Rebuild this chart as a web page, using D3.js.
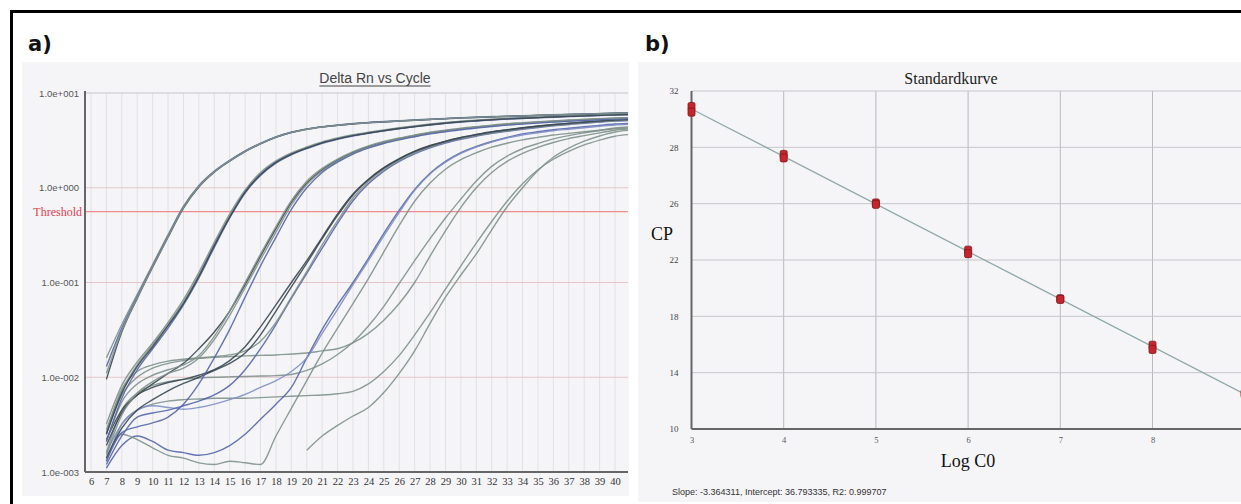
<!DOCTYPE html>
<html>
<head>
<meta charset="utf-8">
<script src="https://cdn.jsdelivr.net/npm/d3@7/dist/d3.min.js"></script>
<style>
  body { margin: 0; background: #fff; }
  svg { display: block; }
</style>
</head>
<body>
<svg id="chart" width="1241" height="504"></svg>
<script>
// ---------- panel a: Delta Rn vs Cycle ----------
var cycles = [7,8,9,10,11,12,13,14,15,16,17,18,19,20,21,22,23,24,25,26,27,28,29,30,31,32,33,34,35,36,37,38,39,40,41];
var cycleTicks = [6,7,8,9,10,11,12,13,14,15,16,17,18,19,20,21,22,23,24,25,26,27,28,29,30,31,32,33,34,35,36,37,38,39,40];
var yTicksA = [0.001, 0.01, 0.1, 1, 10];
var yTickLabelsA = ["1.0e-003", "1.0e-002", "1.0e-001", "1.0e+000", "1.0e+001"];
var threshold = 0.56;

// delta Rn per cycle, one array per well (null = not drawn on log axis)
var group1 = [
  [.016,.036,.075,.155,.32,.64,1.06,1.5,1.95,2.45,2.95,3.45,3.87,4.18,4.42,4.6,4.76,4.9,5.0,5.1,5.2,5.3,5.4,5.5,5.57,5.64,5.7,5.77,5.84,5.9,5.96,6.02,6.08,6.15,6.2],
  [.0095,.030,.068,.145,.30,.61,1.02,1.46,1.91,2.41,2.91,3.41,3.83,4.14,4.37,4.55,4.71,4.85,4.95,5.05,5.15,5.25,5.35,5.45,5.52,5.59,5.65,5.72,5.79,5.85,5.91,5.97,6.03,6.1,6.15],
  [.013,.033,.071,.150,.31,.63,1.04,1.48,1.93,2.43,2.93,3.43,3.85,4.16,4.39,4.57,4.73,4.87,4.97,5.07,5.17,5.27,5.37,5.47,5.54,5.61,5.67,5.74,5.81,5.87,5.93,5.99,6.05,6.12,6.17],
  [.011,.031,.069,.147,.305,.62,1.03,1.47,1.92,2.42,2.92,3.42,3.84,4.15,4.38,4.56,4.72,4.86,4.96,5.06,5.16,5.26,5.36,5.46,5.53,5.6,5.66,5.73,5.8,5.86,5.92,5.98,6.04,6.11,6.16]
];
var group2 = [
  [.0028,.0072,.0135,.022,.036,.062,.12,.25,.50,.92,1.4,1.87,2.28,2.64,3.0,3.3,3.57,3.8,4.03,4.25,4.45,4.65,4.83,5.0,5.12,5.24,5.35,5.44,5.52,5.6,5.68,5.76,5.83,5.9,5.95],
  [.0021,.006,.012,.020,.033,.058,.112,.235,.48,.88,1.35,1.82,2.23,2.59,2.95,3.25,3.52,3.75,3.98,4.2,4.4,4.6,4.78,4.95,5.07,5.19,5.3,5.39,5.47,5.55,5.63,5.71,5.78,5.85,5.9],
  [.0032,.0082,.0145,.023,.038,.066,.128,.265,.53,.95,1.45,1.92,2.33,2.69,3.05,3.35,3.62,3.85,4.08,4.3,4.5,4.7,4.88,5.05,5.17,5.29,5.4,5.49,5.57,5.65,5.73,5.81,5.88,5.95,6.0],
  [.0025,.0068,.013,.021,.035,.06,.116,.245,.49,.90,1.38,1.85,2.26,2.62,2.98,3.28,3.55,3.78,4.0,4.22,4.42,4.62,4.8,4.97,5.1,5.22,5.33,5.42,5.5,5.58,5.66,5.74,5.81,5.88,5.93]
];
var group3 = [
  [.0022,.0045,.0065,.0085,.011,.014,.020,.030,.050,.095,.19,.37,.70,1.12,1.55,1.96,2.36,2.72,3.03,3.3,3.55,3.8,4.0,4.2,4.37,4.53,4.68,4.8,4.92,5.03,5.13,5.23,5.32,5.4,5.45],
  [.0015,.004,.0068,.009,.011,.0125,.016,.025,.045,.088,.175,.34,.66,1.08,1.5,1.91,2.31,2.67,2.98,3.25,3.5,3.75,3.95,4.15,4.32,4.48,4.63,4.75,4.87,4.98,5.08,5.18,5.27,5.35,5.4],
  [.0013,.0026,.003,.0033,.0038,.0052,.0085,.016,.032,.070,.15,.30,.59,1.0,1.45,1.86,2.27,2.62,2.93,3.2,3.45,3.7,3.9,4.1,4.27,4.43,4.58,4.7,4.82,4.93,5.03,5.13,5.22,5.3,5.35],
  [.0021,.0055,.0085,.0105,.012,.0135,.017,.027,.050,.10,.20,.39,.73,1.17,1.6,2.01,2.41,2.77,3.08,3.35,3.6,3.85,4.05,4.25,4.42,4.58,4.73,4.85,4.97,5.08,5.18,5.28,5.37,5.45,5.5]
];
var group4 = [
  [.0019,.0042,.0065,.0078,.0088,.0095,.0105,.012,.015,.021,.034,.058,.10,.17,.30,.53,.86,1.23,1.63,2.03,2.43,2.79,3.1,3.4,3.65,3.9,4.1,4.3,4.48,4.65,4.8,4.95,5.08,5.2,5.28],
  [.0012,.0024,.0038,.0042,.0045,.005,.0056,.0065,.0082,.012,.020,.036,.068,.125,.23,.42,.73,1.1,1.5,1.9,2.28,2.64,2.97,3.25,3.5,3.75,3.95,4.15,4.33,4.5,4.65,4.8,4.93,5.05,5.12],
  [.0026,.0075,.0115,.0135,.0148,.0155,.016,.0165,.0172,.019,.024,.038,.07,.13,.25,.45,.78,1.16,1.56,1.96,2.34,2.69,3.02,3.3,3.55,3.8,4.0,4.2,4.38,4.55,4.7,4.85,4.98,5.1,5.18],
  [.0014,.0029,.0045,.0058,.0072,.0086,.010,.0118,.014,.018,.028,.05,.09,.16,.29,.51,.84,1.21,1.61,2.01,2.4,2.76,3.08,3.37,3.62,3.87,4.07,4.27,4.45,4.62,4.77,4.92,5.05,5.17,5.25]
];
var group5 = [
  [.0011,.0019,.0024,.0021,.0017,.0016,.0015,.0016,.0019,.0025,.0036,.0052,.0078,.016,.032,.058,.10,.18,.33,.58,.96,1.42,1.9,2.35,2.73,3.08,3.4,3.7,3.9,4.1,4.25,4.4,4.55,4.7,4.78],
  [.0016,.0032,.0045,.005,.0048,.0046,.0048,.0052,.0058,.0066,.0078,.0092,.0115,.016,.029,.052,.095,.17,.31,.55,.94,1.4,1.86,2.3,2.68,3.03,3.35,3.6,3.8,4.0,4.15,4.3,4.45,4.6,4.68],
  [.0014,.0025,.0022,.0018,.0015,.0014,.00125,.0012,.0013,.00125,.0012,.0024,.0047,.0092,.018,.033,.06,.11,.21,.40,.72,1.12,1.57,1.98,2.34,2.68,2.95,3.2,3.4,3.6,3.75,3.9,4.05,4.2,4.28]
];
var group6 = [
  [.0016,.0045,.0068,.0082,.009,.0095,.0098,.010,.0101,.0102,.0103,.0104,.0107,.0118,.0138,.0174,.0234,.0347,.056,.098,.17,.29,.48,.76,1.18,1.68,2.16,2.58,2.93,3.28,3.55,3.8,4.02,4.27,4.4],
  [.0025,.0065,.010,.0125,.014,.015,.0158,.0162,.0165,.0168,.017,.0172,.0176,.018,.019,.020,.023,.029,.040,.060,.10,.19,.35,.62,1.0,1.45,1.9,2.31,2.67,3.0,3.3,3.55,3.8,4.05,4.18]
];
var group7 = [
  [null,null,null,null,null,null,null,null,null,null,null,null,null,.0017,.0024,.0031,.0039,.0048,.0069,.011,.019,.037,.07,.12,.20,.36,.63,1.0,1.52,2.1,2.62,3.1,3.52,3.88,4.05],
  [.0013,.0032,.0045,.0052,.0056,.0058,.0059,.006,.006,.006,.0061,.0062,.0063,.0064,.0065,.0067,.0071,.0085,.0115,.017,.028,.048,.085,.15,.26,.44,.72,1.1,1.55,2.0,2.42,2.83,3.18,3.5,3.65]
];

// ---------- panel b: Standardkurve ----------
var logC0 = [3, 4, 5, 6, 7, 8, 9];
var cpRep1 = [32.9, 29.5, 26.05, 22.7, 19.25, 15.95, 12.55];
var cpRep2 = [32.5, 29.25, 25.95, 22.45, 19.2, 15.65, 12.45];
var xTicksB = [3, 4, 5, 6, 7, 8];
var yTicksB = [10, 14, 18, 22, 26, 30, 34];
var yTickLabelsB = ["10", "14", "18", "22", "26", "28", "32"];
var fitText = "Slope:  -3.364311, Intercept:  36.793335, R2:  0.999707";

var sans = "Liberation Sans, Arial, sans-serif";
var serif = "Liberation Serif, Times New Roman, serif";

var svg = d3.select("#chart");

// panel backgrounds
svg.append("rect").attr("x", 22).attr("y", 62).attr("width", 607).attr("height", 434).attr("fill", "#f5f5f8");
svg.append("rect").attr("x", 638).attr("y", 62).attr("width", 603).attr("height", 440).attr("fill", "#f5f5f8");

// outer frame (top and left)
svg.append("path").attr("d", "M11.5,504V11.5H1241")
    .attr("fill", "none").attr("stroke", "#000").attr("stroke-width", 3);

svg.append("text").attr("x", 28).attr("y", 51).text("a)")
    .attr("font-family", "DejaVu Sans, sans-serif").attr("font-weight", "bold").attr("font-size", 21).attr("fill", "#111");
svg.append("text").attr("x", 645).attr("y", 51).text("b)")
    .attr("font-family", "DejaVu Sans, sans-serif").attr("font-weight", "bold").attr("font-size", 21).attr("fill", "#111");

// ===== panel a =====
var A = {left: 85, right: 628, top: 93, bottom: 472};
var xA = d3.scaleLinear().domain([6, 40]).range([91, 615]);
var yA = d3.scaleLog().domain([0.001, 10]).range([A.bottom, A.top]);

var gA = svg.append("g");

// vertical grid
gA.selectAll("line.vgrid").data(cycleTicks).enter().append("line")
    .attr("x1", function(d) { return xA(d); }).attr("x2", function(d) { return xA(d); })
    .attr("y1", A.top).attr("y2", A.bottom)
    .attr("stroke", "#e0e0e7").attr("stroke-width", 1);

// horizontal grid
gA.selectAll("line.hgrid").data(yTicksA).enter().append("line")
    .attr("x1", A.left).attr("x2", A.right)
    .attr("y1", function(d) { return yA(d); }).attr("y2", function(d) { return yA(d); })
    .attr("stroke", function(d) { return d === 10 ? "#c8c8cc" : "#e5c6c8"; })
    .attr("stroke-width", 1.2);

// threshold
gA.append("line")
    .attr("x1", A.left).attr("x2", A.right)
    .attr("y1", yA(threshold)).attr("y2", yA(threshold))
    .attr("stroke", "#ef8a8e").attr("stroke-width", 1.2);
gA.append("text").attr("x", 82).attr("y", yA(threshold) + 4)
    .attr("text-anchor", "end").attr("font-family", serif).attr("font-size", 12)
    .attr("fill", "#e0404e").text("Threshold");

// amplification curves
svg.append("clipPath").attr("id", "clipA").append("rect")
    .attr("x", A.left).attr("y", A.top - 2).attr("width", A.right - A.left).attr("height", A.bottom - A.top + 2);

var lineA = d3.line()
    .defined(function(d) { return d != null; })
    .x(function(d, i) { return xA(cycles[i]); })
    .y(function(d) { return yA(d); })
    .curve(d3.curveMonotoneX);

var gray = "#7f918a", dark = "#3a4852", blue = "#5566aa", lblue = "#7f8ec6";
var groups = [
  {data: group1, colors: [gray, dark, blue, gray]},
  {data: group2, colors: [gray, blue, gray, dark]},
  {data: group3, colors: [dark, gray, blue, gray]},
  {data: group4, colors: [dark, blue, gray, dark]},
  {data: group5, colors: [blue, lblue, gray]},
  {data: group6, colors: [gray, gray]},
  {data: group7, colors: [gray, gray]}
];

var curvesG = gA.append("g").attr("clip-path", "url(#clipA)");
groups.slice().reverse().forEach(function(grp) {
  curvesG.selectAll(null).data(grp.data).enter().append("path")
      .attr("d", lineA)
      .attr("fill", "none")
      .attr("stroke", function(d, i) { return grp.colors[i]; })
      .attr("stroke-width", 1.4)
      .attr("stroke-opacity", 0.9);
});

// axes
gA.append("g").attr("transform", "translate(" + A.left + ",0)")
    .call(d3.axisLeft(yA).tickValues(yTicksA)
        .tickFormat(function(d, i) { return yTickLabelsA[i]; })
        .tickSize(0).tickPadding(6))
    .call(function(g) { g.select(".domain").remove(); })
    .selectAll("text")
    .attr("font-family", sans).attr("font-size", 9.5).attr("fill", "#555");

gA.append("g").attr("transform", "translate(0," + A.bottom + ")")
    .call(d3.axisBottom(xA).tickValues(cycleTicks).tickSize(0).tickPadding(6))
    .call(function(g) { g.select(".domain").remove(); })
    .selectAll("text")
    .attr("font-family", serif).attr("font-size", 10.5).attr("fill", "#333");

gA.append("line").attr("x1", A.left).attr("x2", A.left).attr("y1", A.top - 2).attr("y2", A.bottom)
    .attr("stroke", "#666").attr("stroke-width", 2);
gA.append("line").attr("x1", A.left).attr("x2", A.right).attr("y1", A.bottom).attr("y2", A.bottom)
    .attr("stroke", "#666").attr("stroke-width", 2);

// title with underline
var titleA = gA.append("text").attr("x", 375).attr("y", 83)
    .attr("text-anchor", "middle").attr("font-family", sans).attr("font-size", 14)
    .attr("fill", "#444").text("Delta Rn vs Cycle");
var tw = titleA.node().getComputedTextLength();
gA.append("line").attr("x1", 375 - tw / 2).attr("x2", 375 + tw / 2).attr("y1", 86).attr("y2", 86)
    .attr("stroke", "#444").attr("stroke-width", 1);

// ===== panel b =====
var B = {left: 691.5, right: 1241, top: 91, bottom: 429};
var xB = d3.scaleLinear().domain([3, 9]).range([B.left, B.left + 6 * 92.2]);
var yB = d3.scaleLinear().domain([10, 34]).range([B.bottom, B.top]);

var gB = svg.append("g");

gB.selectAll("line.vg").data(xTicksB.slice(1)).enter().append("line")
    .attr("x1", function(d) { return xB(d); }).attr("x2", function(d) { return xB(d); })
    .attr("y1", B.top).attr("y2", B.bottom)
    .attr("stroke", "#b9b9be").attr("stroke-width", 1);
gB.selectAll("line.hg").data(yTicksB.slice(1)).enter().append("line")
    .attr("x1", B.left).attr("x2", B.right)
    .attr("y1", function(d) { return yB(d); }).attr("y2", function(d) { return yB(d); })
    .attr("stroke", "#c6c6cb").attr("stroke-width", 1);

gB.append("g").attr("transform", "translate(" + (B.left - 6) + ",0)")
    .call(d3.axisLeft(yB).tickValues(yTicksB)
        .tickFormat(function(d, i) { return yTickLabelsB[i]; })
        .tickSize(0).tickPadding(7))
    .call(function(g) { g.select(".domain").remove(); })
    .selectAll("text")
    .attr("font-family", serif).attr("font-size", 9).attr("fill", "#444");

gB.append("g").attr("transform", "translate(0," + (B.bottom + 4) + ")")
    .call(d3.axisBottom(xB).tickValues(xTicksB).tickFormat(d3.format("d")).tickSize(0).tickPadding(4))
    .call(function(g) { g.select(".domain").remove(); })
    .selectAll("text")
    .attr("font-family", serif).attr("font-size", 8.5).attr("fill", "#555");

gB.append("line").attr("x1", B.left).attr("x2", B.left).attr("y1", B.top).attr("y2", B.bottom)
    .attr("stroke", "#666").attr("stroke-width", 2);
gB.append("line").attr("x1", B.left).attr("x2", B.right).attr("y1", B.bottom).attr("y2", B.bottom)
    .attr("stroke", "#666").attr("stroke-width", 2);

// least squares fit over all replicates
var pts = [];
logC0.forEach(function(x, i) { pts.push([x, cpRep1[i]]); pts.push([x, cpRep2[i]]); });
var mx = d3.mean(pts, function(p) { return p[0]; });
var my = d3.mean(pts, function(p) { return p[1]; });
var slope = d3.sum(pts, function(p) { return (p[0] - mx) * (p[1] - my); }) /
            d3.sum(pts, function(p) { return (p[0] - mx) * (p[0] - mx); });
var icpt = my - slope * mx;
gB.append("line")
    .attr("x1", xB(3)).attr("y1", yB(icpt + slope * 3))
    .attr("x2", xB(9.2)).attr("y2", yB(icpt + slope * 9.2))
    .attr("stroke", "#8fa9a8").attr("stroke-width", 1.3);

gB.selectAll("rect.pt").data(pts).enter().append("rect")
    .attr("x", function(p) { return xB(p[0]) - 3.5; })
    .attr("y", function(p) { return yB(p[1]) - 4; })
    .attr("width", 7).attr("height", 8).attr("rx", 1.5)
    .attr("fill", "#c4262d").attr("stroke", "#861619").attr("stroke-width", 0.8);

gB.append("text").attr("x", 951).attr("y", 84).attr("text-anchor", "middle")
    .attr("font-family", serif).attr("font-size", 16).attr("fill", "#222").text("Standardkurve");
gB.append("text").attr("x", 651).attr("y", 240)
    .attr("font-family", serif).attr("font-size", 18).attr("fill", "#111").text("CP");
gB.append("text").attr("x", 968).attr("y", 467).attr("text-anchor", "middle")
    .attr("font-family", serif).attr("font-size", 18).attr("fill", "#111").text("Log C0");
gB.append("text").attr("x", 672).attr("y", 495)
    .attr("font-family", sans).attr("font-size", 9).attr("fill", "#333").text(fitText);
</script>
</body>
</html>
